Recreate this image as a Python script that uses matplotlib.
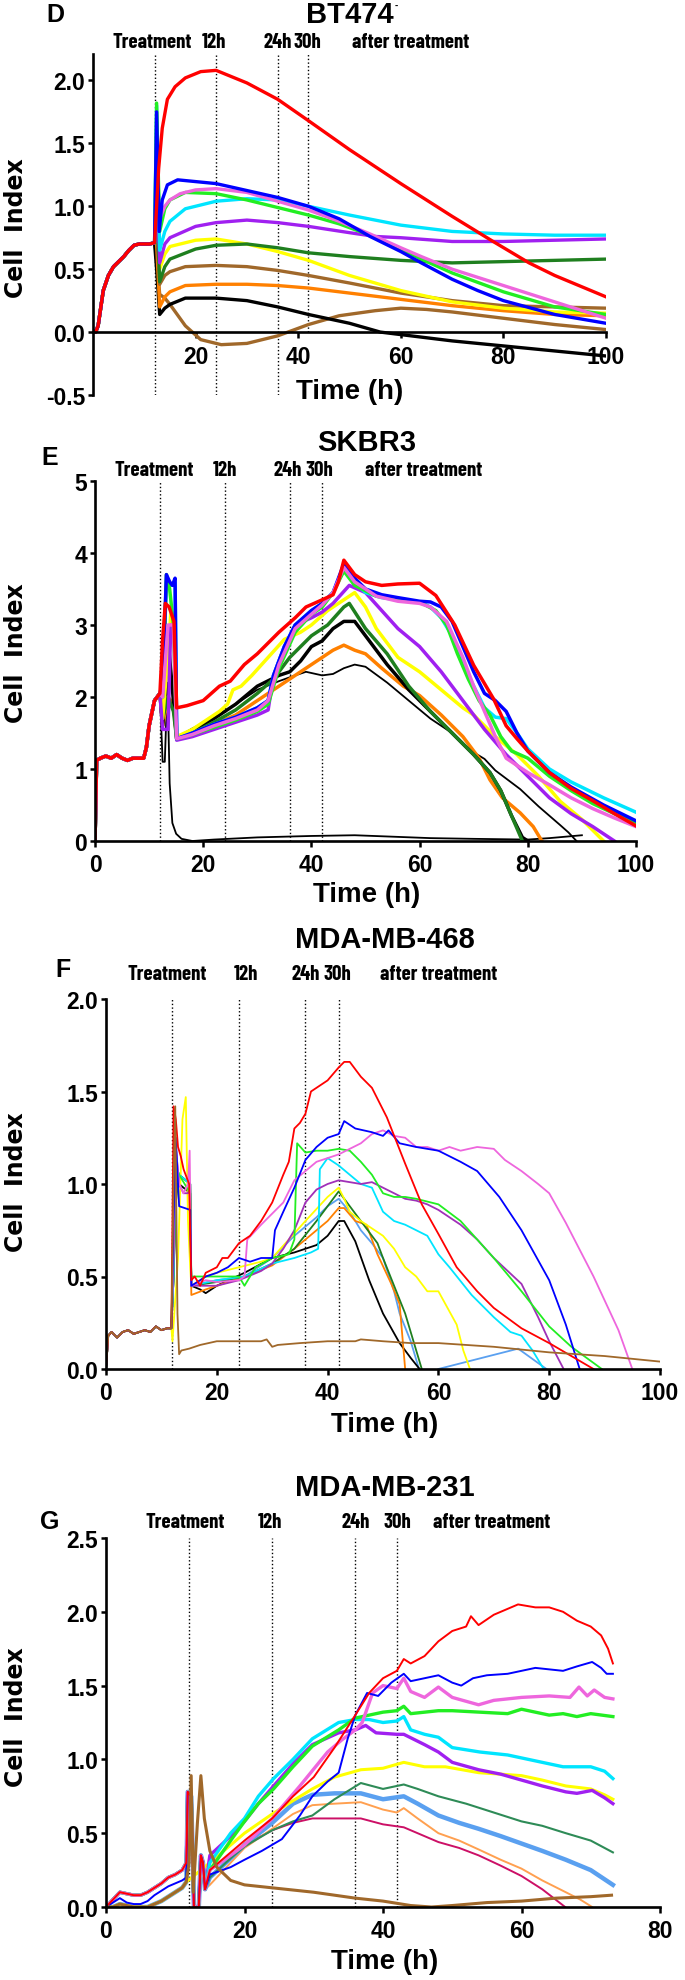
import matplotlib.pyplot as plt

plt.rcParams['font.family'] = ['Liberation Sans', 'DejaVu Sans']
plt.rcParams['font.weight'] = 'bold'

# ---------------- data: (time h, cell index) ----------------
# panel D  BT474
d_pre = [(0, 0.0), (0.5, 0.0), (1, 0.05), (2, 0.33), (3, 0.45), (4, 0.52), (5, 0.56), (6, 0.6),
         (7, 0.65), (8, 0.69), (9, 0.7), (10, 0.7), (11, 0.7), (12, 0.71)]
d_red = [(12.4, 1.0), (12.8, 1.3), (13.5, 1.62), (14.5, 1.85), (16, 1.95), (18, 2.02), (21, 2.07),
         (24, 2.08), (30, 1.98), (36, 1.85), (42, 1.68), (50, 1.45), (60, 1.18), (70, 0.92),
         (78, 0.72), (85, 0.55), (90, 0.45), (100, 0.28)]
d_blue = [(12.4, 1.75), (12.9, 0.8), (13.5, 1.05), (14.5, 1.17), (16.5, 1.21), (24, 1.18), (36, 1.07),
          (42, 1.0), (48, 0.9), (54, 0.76), (60, 0.64), (64, 0.55), (70, 0.42), (75, 0.33), (80, 0.25),
          (90, 0.14), (100, 0.07)]
d_pink = [(12.4, 1.2), (13, 0.9), (14, 1.0), (15, 1.05), (17, 1.1), (20, 1.13), (24, 1.14), (30, 1.11),
          (36, 1.04), (42, 0.97), (48, 0.88), (54, 0.78), (60, 0.67), (64, 0.6), (70, 0.5), (80, 0.37),
          (90, 0.24), (100, 0.11)]
d_lime = [(12.4, 1.82), (13, 0.8), (14, 0.98), (15, 1.05), (18, 1.11), (24, 1.1), (30, 1.05), (36, 0.99),
          (42, 0.93), (48, 0.86), (54, 0.77), (60, 0.66), (64, 0.58), (70, 0.47), (80, 0.32), (90, 0.2),
          (100, 0.14)]
d_cyan = [(12.4, 1.8), (13, 0.65), (14, 0.8), (15, 0.88), (18, 0.98), (24, 1.04), (30, 1.06), (36, 1.05),
          (42, 1.0), (50, 0.93), (60, 0.85), (70, 0.8), (80, 0.78), (90, 0.77), (100, 0.77)]
d_purple = [(12.4, 1.3), (13, 0.55), (14, 0.7), (15, 0.75), (20, 0.84), (24, 0.87), (30, 0.89), (36, 0.87),
            (42, 0.84), (50, 0.79), (55, 0.76), (60, 0.75), (70, 0.72), (80, 0.72), (90, 0.73), (100, 0.74)]
d_dkgreen = [(12.4, 1.0), (13, 0.4), (14, 0.52), (15, 0.58), (20, 0.66), (24, 0.69), (30, 0.7), (36, 0.67),
             (42, 0.63), (50, 0.6), (60, 0.57), (70, 0.55), (80, 0.56), (90, 0.57), (100, 0.58)]
d_yellow = [(12.4, 1.0), (13, 0.5), (14, 0.62), (15, 0.68), (20, 0.73), (24, 0.74), (30, 0.7), (36, 0.64),
            (42, 0.57), (50, 0.45), (60, 0.33), (70, 0.24), (80, 0.19), (90, 0.16), (100, 0.15)]
d_brown = [(12.4, 0.8), (13, 0.38), (14, 0.45), (15, 0.48), (18, 0.52), (24, 0.53), (30, 0.52), (36, 0.49),
           (42, 0.45), (50, 0.39), (60, 0.31), (70, 0.25), (80, 0.21), (90, 0.2), (100, 0.19)]
d_orange = [(12.4, 0.7), (13, 0.2), (14, 0.28), (15, 0.32), (18, 0.37), (24, 0.38), (30, 0.38), (36, 0.37),
            (42, 0.35), (50, 0.31), (60, 0.26), (70, 0.21), (80, 0.17), (90, 0.14), (100, 0.13)]
d_black = [(12.4, 0.5), (13, 0.14), (14, 0.19), (15, 0.22), (18, 0.27), (24, 0.27), (30, 0.25), (36, 0.2),
           (42, 0.14), (50, 0.07), (56, 0.0), (60, -0.02), (70, -0.07), (80, -0.11), (90, -0.15), (100, -0.19)]
d_brown2 = [(12.4, 0.6), (13, 0.3), (14, 0.27), (15, 0.22), (18, 0.05), (21, -0.06), (25, -0.1), (30, -0.09),
            (36, -0.03), (42, 0.06), (48, 0.13), (55, 0.17), (60, 0.19), (65, 0.18), (70, 0.16), (80, 0.11),
            (90, 0.06), (100, 0.02)]

# panel E  SKBR3
e_pre = [(0, 0.0), (0.3, 1.12), (1, 1.15), (2, 1.18), (3, 1.15), (4, 1.2), (5, 1.15), (6, 1.12), (7, 1.15),
         (8, 1.15), (9, 1.15), (9.5, 1.3), (10, 1.6), (11, 1.95), (12, 2.05)]
e_red = [(12.5, 2.8), (13, 3.3), (13.7, 3.25), (14.6, 3.05), (15.1, 1.85), (17, 1.88), (20, 1.95), (21.5, 2.05),
         (23, 2.15), (25, 2.22), (27.6, 2.45), (30, 2.6), (34, 2.9), (37, 3.1), (39, 3.25), (42, 3.35),
         (44, 3.42), (45, 3.6), (46, 3.9), (48, 3.7), (50, 3.6), (53, 3.55), (56, 3.57), (60, 3.58),
         (63, 3.41), (66.5, 3.0), (70, 2.44), (73.7, 1.97), (76, 1.6), (78, 1.42), (80, 1.25), (84, 0.95),
         (88, 0.73), (92, 0.56), (96, 0.38), (100, 0.21)]
e_blue = [(12.5, 2.2), (13.2, 3.7), (13.8, 3.6), (14.3, 3.55), (14.8, 3.65), (15.1, 1.42), (18, 1.5), (22, 1.62),
          (26, 1.72), (30, 1.85), (32, 1.95), (33, 2.3), (35, 2.7), (37, 3.0), (40, 3.2), (42, 3.3), (44, 3.45),
          (46, 3.85), (48, 3.65), (50, 3.5), (53, 3.42), (56, 3.38), (60, 3.33), (62, 3.32), (64, 3.25),
          (66, 3.05), (68, 2.7), (70, 2.35), (72, 2.05), (74, 1.95), (76, 1.8), (78, 1.5), (80, 1.25),
          (84, 0.95), (88, 0.75), (94, 0.5), (100, 0.28)]
e_cyan = [(12.5, 2.1), (13.2, 3.6), (14, 3.55), (14.8, 3.6), (15.1, 1.42), (18, 1.5), (22, 1.62), (26, 1.72),
          (30, 1.85), (32, 1.95), (33, 2.3), (35, 2.7), (37, 3.0), (40, 3.2), (42, 3.3), (44, 3.45), (46, 3.8),
          (48, 3.6), (50, 3.45), (53, 3.38), (56, 3.35), (60, 3.32), (62, 3.25), (64, 3.1), (66, 2.85),
          (68, 2.45), (70, 2.15), (72, 1.85), (74, 1.72), (76, 1.7), (78, 1.5), (80, 1.28), (84, 1.0),
          (88, 0.82), (94, 0.6), (100, 0.4)]
e_lime = [(12.5, 2.0), (13.2, 3.7), (13.8, 3.5), (14.5, 3.0), (15.1, 1.42), (18, 1.48), (22, 1.58), (26, 1.68),
          (30, 1.8), (32, 1.9), (34, 2.4), (37, 2.9), (40, 3.15), (42, 3.25), (44, 3.45), (46, 3.75),
          (48, 3.55), (52, 3.4), (56, 3.35), (60, 3.32), (63, 3.2), (65, 3.0), (67, 2.6), (69, 2.25),
          (71, 1.95), (73, 1.75), (75, 1.45), (77, 1.25), (80, 1.15), (84, 0.9), (88, 0.7), (92, 0.52),
          (96, 0.38), (100, 0.25)]
e_pink = [(12.5, 2.0), (13.5, 3.0), (14.5, 3.0), (15.1, 1.42), (18, 1.48), (22, 1.6), (26, 1.7), (30, 1.82),
          (32, 1.95), (34, 2.45), (37, 2.95), (40, 3.15), (42, 3.28), (44, 3.45), (46, 3.8), (48, 3.6),
          (52, 3.4), (56, 3.33), (60, 3.3), (62, 3.25), (65, 3.05), (68, 2.55), (70, 2.15), (72, 1.8),
          (74, 1.45), (76, 1.15), (78, 1.05), (80, 0.95), (84, 0.78), (88, 0.6), (92, 0.45), (96, 0.32),
          (100, 0.2)]
e_purple = [(12.5, 1.55), (13.5, 1.55), (14, 3.0), (14.8, 3.0), (15.1, 1.4), (18, 1.45), (22, 1.55),
            (26, 1.65), (30, 1.75), (32, 1.82), (33, 2.3), (35, 2.7), (37, 3.0), (40, 3.1), (42, 3.18),
            (44, 3.3), (47, 3.55), (50, 3.45), (53, 3.2), (56, 2.95), (60, 2.7), (64, 2.35), (68, 1.95),
            (72, 1.55), (76, 1.2), (80, 0.9), (84, 0.6), (88, 0.38), (92, 0.2), (95, 0.05), (96, 0.0)]
e_yellow = [(12.5, 1.7), (13.5, 2.6), (14, 3.15), (14.6, 3.0), (15.1, 1.45), (18, 1.55), (21, 1.7), (23, 1.8),
            (24.5, 1.9), (25.5, 2.1), (27, 2.15), (29, 2.3), (32, 2.55), (35, 2.8), (38, 2.9), (40, 3.0),
            (43, 3.2), (46, 3.35), (48, 3.45), (50, 3.25), (52, 2.95), (54, 2.75), (56, 2.55), (60, 2.35),
            (64, 2.1), (68, 1.85), (70, 1.75), (74, 1.45), (78, 1.2), (82, 0.9), (86, 0.55), (90, 0.3),
            (94, 0.0)]
e_dkgreen = [(12.5, 1.7), (13.5, 2.0), (14.5, 1.8), (15.1, 1.42), (18, 1.5), (22, 1.65), (26, 1.82),
             (30, 2.05), (33, 2.25), (36, 2.55), (40, 2.85), (43, 3.0), (46, 3.25), (47, 3.3), (50, 2.95),
             (54, 2.6), (58, 2.15), (62, 1.8), (66, 1.5), (70, 1.2), (73, 0.95), (75, 0.7), (77, 0.35),
             (79, 0.0)]
e_black = [(12.5, 1.6), (13.5, 2.8), (14.2, 2.2), (15.1, 1.42), (18, 1.55), (22, 1.7), (26, 1.9), (30, 2.15),
           (34, 2.3), (36, 2.35), (38, 2.5), (40, 2.7), (42, 2.78), (44, 2.95), (46, 3.05), (48, 3.05),
           (50, 2.85), (54, 2.45), (58, 2.1), (62, 1.8), (66, 1.5), (70, 1.2), (73, 0.95), (75, 0.7),
           (77, 0.35), (79, 0.05), (80, 0.0)]
e_orange = [(12.5, 1.6), (13.5, 2.0), (14.5, 1.9), (15.1, 1.42), (18, 1.5), (22, 1.62), (26, 1.75),
            (30, 1.95), (33, 2.1), (36, 2.25), (40, 2.45), (44, 2.65), (46, 2.72), (48, 2.65), (50, 2.6),
            (53, 2.4), (57, 2.15), (60, 2.02), (64, 1.75), (68, 1.45), (71, 1.15), (73, 0.85), (75.3, 0.6),
            (78.6, 0.39), (81, 0.2), (82.6, 0.0)]
e_black_thin = [(12.5, 1.1), (12.9, 1.1), (13.4, 2.2), (13.8, 0.8), (14.3, 0.25), (15, 0.1), (16, 0.03),
                (18, 0.0), (22, 0.02), (30, 0.05), (40, 0.07), (48, 0.08), (55, 0.06), (62, 0.04), (70, 0.03),
                (80, 0.02), (84, 0.04), (90, 0.08)]
e_black_thin2 = [(12.5, 1.6), (13.5, 2.0), (14.5, 1.8), (15.1, 1.4), (18, 1.52), (22, 1.7), (26, 1.9),
                 (30, 2.1), (34, 2.22), (37, 2.3), (39, 2.35), (42, 2.3), (44, 2.32), (46, 2.4), (48, 2.45),
                 (50, 2.42), (54, 2.2), (58, 1.95), (62, 1.7), (66, 1.5), (68, 1.35), (70, 1.23), (72, 1.14),
                 (74, 0.98), (78.6, 0.72), (82, 0.48), (86, 0.22), (87.5, 0.12), (89, 0.0)]

# panel F  MDA-MB-468
f_pre = [(0, 0.0), (0.4, 0.18), (1, 0.2), (2, 0.17), (3, 0.2), (4, 0.21), (5, 0.19), (6, 0.2), (7, 0.21),
         (8, 0.2), (9, 0.23), (10, 0.21), (11, 0.22), (11.8, 0.22)]
f_red = [(12.2, 1.42), (12.6, 1.35), (13, 1.2), (13.5, 1.15), (14, 1.08), (15, 1.0), (15.4, 0.48), (16, 0.5),
         (17, 0.45), (18, 0.52), (20, 0.55), (21, 0.6), (22, 0.6), (24, 0.68), (26, 0.72), (28, 0.8),
         (30, 0.9), (32, 1.05), (33, 1.12), (34, 1.3), (35, 1.33), (36, 1.38), (37, 1.5), (38, 1.52),
         (40, 1.56), (42, 1.63), (43, 1.66), (44, 1.66), (46, 1.58), (48, 1.52), (50.7, 1.36), (54, 1.11),
         (57, 0.89), (60, 0.73), (63.3, 0.55), (67, 0.42), (70, 0.33), (75, 0.22), (80, 0.14), (84, 0.07),
         (88, 0.0)]
f_blue = [(12.2, 0.8), (12.6, 1.25), (13.2, 0.88), (15.2, 0.86), (15.4, 0.45), (17, 0.48), (18, 0.5),
          (20, 0.52), (22, 0.55), (24, 0.6), (26, 0.58), (28, 0.6), (30, 0.6), (30.5, 0.75), (32, 0.85),
          (34, 0.98), (36, 1.13), (38, 1.2), (40, 1.25), (42, 1.27), (43, 1.34), (45, 1.3), (48, 1.28),
          (50, 1.26), (51, 1.29), (53, 1.22), (56, 1.2), (58, 1.19), (60, 1.18), (64, 1.12), (67, 1.07),
          (71, 0.93), (75, 0.75), (80, 0.48), (83, 0.24), (85.5, 0.0)]
f_pink = [(12.2, 0.7), (12.6, 1.2), (13.2, 1.0), (14, 0.95), (14.8, 1.0), (15.1, 1.18), (15.4, 0.45),
          (18, 0.48), (20, 0.47), (24, 0.48), (25, 0.5), (25.5, 0.7), (28, 0.78), (32, 0.9), (34, 1.02),
          (38, 1.12), (42, 1.16), (46, 1.22), (48, 1.27), (50, 1.29), (52, 1.26), (54, 1.25), (56, 1.2),
          (58, 1.2), (60, 1.18), (62, 1.2), (64, 1.18), (67, 1.2), (70, 1.19), (72, 1.13), (75, 1.07),
          (78, 1.0), (80, 0.95), (83, 0.79), (88, 0.5), (92.5, 0.21), (95, 0.0)]
f_lime = [(12.2, 0.8), (12.6, 1.1), (13.2, 1.05), (15.2, 0.95), (15.4, 0.5), (18, 0.5), (20, 0.5), (24, 0.5),
          (25, 0.45), (27, 0.55), (30, 0.6), (33, 0.62), (34, 0.7), (34.5, 1.22), (36, 1.17), (38, 1.18),
          (40, 1.18), (42, 1.19), (44, 1.18), (46, 1.12), (48, 1.05), (50, 0.95), (52, 0.93), (54, 0.93),
          (56, 0.92), (60, 0.89), (64, 0.8), (67, 0.7), (70, 0.6), (75, 0.42), (80, 0.23), (84, 0.12),
          (89.5, 0.0)]
f_purple = [(12.2, 0.6), (12.6, 1.2), (13.2, 1.0), (14, 0.95), (14.8, 0.95), (15.2, 1.0), (15.4, 0.45),
            (20, 0.45), (24, 0.48), (28, 0.53), (30, 0.57), (32, 0.65), (34, 0.75), (36, 0.9), (38, 0.97),
            (40, 1.0), (42, 1.02), (44, 1.01), (46, 1.0), (48, 1.01), (50, 0.98), (52, 0.95), (54, 0.92),
            (56, 0.91), (58, 0.89), (60, 0.86), (64, 0.78), (67, 0.7), (70, 0.6), (75, 0.46), (78, 0.28),
            (80, 0.15), (82.6, 0.0)]
f_cyan = [(12.2, 0.5), (12.6, 1.1), (13.2, 1.05), (15.2, 1.0), (15.4, 0.45), (20, 0.48), (25, 0.5),
          (30, 0.57), (34, 0.6), (37, 0.63), (38.3, 0.65), (38.6, 1.08), (40, 1.14), (42, 1.1), (44, 1.05),
          (46, 1.0), (48, 0.98), (50, 0.85), (52, 0.8), (54, 0.78), (58, 0.72), (60, 0.62), (62, 0.55),
          (66, 0.4), (70, 0.28), (73, 0.2), (75, 0.18), (77, 0.1), (79, 0.0)]
f_yellow = [(12, 0.15), (13, 0.6), (13.8, 1.35), (14.4, 1.47), (14.8, 0.8), (15.2, 0.55), (15.4, 0.45),
            (18, 0.5), (20, 0.52), (24, 0.55), (28, 0.58), (30, 0.6), (33, 0.7), (36, 0.8), (40, 0.93),
            (42, 0.98), (43, 0.92), (44, 0.85), (46, 0.8), (50, 0.72), (52, 0.65), (54, 0.55), (56, 0.5),
            (58, 0.42), (60, 0.42), (63.3, 0.24), (64.5, 0.1), (65.7, 0.0)]
f_dkgreen = [(12.2, 0.5), (12.6, 0.9), (13.2, 1.05), (15.2, 1.0), (15.4, 0.45), (20, 0.47), (25, 0.5),
             (30, 0.57), (34, 0.65), (38, 0.8), (40, 0.88), (42, 0.96), (44, 0.88), (46, 0.8), (48, 0.72),
             (49, 0.68), (50, 0.6), (52, 0.45), (54, 0.3), (56, 0.1), (57, 0.0)]
f_ltblue = [(12.2, 0.5), (12.6, 1.0), (13.2, 1.05), (15.2, 1.0), (15.4, 0.45), (20, 0.48), (25, 0.5),
            (30, 0.6), (34, 0.72), (38, 0.82), (40, 0.88), (42, 0.92), (44, 0.85), (46, 0.75), (48, 0.68),
            (50, 0.6), (52, 0.42), (53, 0.3), (55, 0.15), (56.5, 0.0), (58, float('nan')), (60, 0.0),
            (74.4, 0.11), (79.5, 0.0)]
f_orange = [(12.2, 0.5), (12.6, 1.1), (13.2, 1.05), (15.2, 1.0), (15.4, 0.4), (18, 0.43), (20, 0.45),
            (25, 0.5), (30, 0.56), (34, 0.65), (38, 0.75), (40, 0.8), (42, 0.87), (43, 0.87), (45, 0.8),
            (47, 0.78), (49, 0.62), (51.5, 0.46), (53, 0.35), (54, 0.0)]
f_black = [(12.2, 0.5), (12.6, 1.0), (13.2, 1.0), (15.2, 0.95), (15.4, 0.45), (17, 0.43), (18, 0.41),
           (20, 0.45), (25, 0.52), (30, 0.6), (34, 0.63), (38, 0.67), (40, 0.72), (42, 0.8), (43, 0.8),
           (45, 0.69), (47.5, 0.48), (50, 0.3), (53, 0.14), (55, 0.06), (56.6, 0.0)]
f_brown = [(12.2, 1.0), (12.5, 1.42), (12.9, 0.3), (13.2, 0.08), (13.6, 0.1), (15, 0.11), (17, 0.13),
           (20, 0.15), (25, 0.15), (28, 0.15), (29, 0.16), (30, 0.12), (31, 0.13), (35, 0.14), (40, 0.15),
           (45, 0.15), (46, 0.16), (50, 0.15), (55, 0.14), (60, 0.14), (70, 0.12), (80, 0.09), (90, 0.07),
           (100, 0.04)]

# panel G  MDA-MB-231
g_pre_hi = [(0, 0.0), (1, 0.05), (2, 0.1), (3, 0.09), (4, 0.08), (5, 0.08), (6, 0.1), (7, 0.13), (8, 0.16),
            (9, 0.2), (10, 0.22), (11, 0.25), (11.6, 0.3)]
g_pre_lo = [(0, 0.0), (1, 0.0), (2, 0.02), (3, 0.01), (4, 0.0), (5, 0.0), (6, 0.0), (7, 0.02), (8, 0.04),
            (9, 0.07), (10, 0.1), (11, 0.13), (11.6, 0.17)]
g_pre_blue = [(0, 0.0), (1, 0.03), (2, 0.06), (3, 0.03), (4, 0.02), (5, 0.02), (6, 0.04), (7, 0.08),
              (8, 0.11), (9, 0.14), (10, 0.16), (11, 0.18), (11.6, 0.2)]
g_spike = [(11.8, 0.78), (12.3, 0.75), (12.7, 0.0), (13.4, 0.0), (13.7, 0.35), (14.0, 0.3), (14.3, 0.12)]
g_red = [(15, 0.25), (18, 0.37), (20, 0.45), (24, 0.6), (27, 0.75), (30, 0.88), (33, 1.08), (36, 1.3),
         (38, 1.45), (40, 1.55), (42, 1.6), (43, 1.68), (44, 1.65), (46, 1.7), (48, 1.8), (50, 1.87),
         (52, 1.9), (52.7, 1.97), (53.8, 1.91), (56, 1.98), (59.5, 2.05), (62, 2.03), (64, 2.03), (66, 2.0),
         (68, 1.94), (70, 1.9), (71.5, 1.84), (72.5, 1.75), (73.2, 1.65)]
g_blue = [(15, 0.22), (18, 0.27), (20, 0.32), (22.5, 0.38), (25.4, 0.46), (28, 0.62), (29.8, 0.75), (32, 0.85),
          (33.6, 0.91), (34.9, 1.14), (36, 1.3), (37.7, 1.45), (39.3, 1.43), (41.2, 1.52), (43, 1.58),
          (44, 1.53), (46, 1.55), (48, 1.57), (50, 1.52), (51.3, 1.5), (53, 1.55), (55, 1.57), (58, 1.58),
          (60, 1.6), (62, 1.62), (64, 1.61), (66, 1.6), (68, 1.63), (70.2, 1.66), (71.5, 1.62), (72.3, 1.58),
          (73.2, 1.58)]
g_pink = [(15, 0.25), (18, 0.35), (20, 0.42), (24, 0.6), (28, 0.82), (32, 1.05), (34, 1.13), (36, 1.2),
          (37, 1.25), (38.5, 1.45), (40, 1.5), (42, 1.48), (43, 1.55), (44, 1.46), (46, 1.42), (48, 1.49),
          (50, 1.42), (53.8, 1.37), (56, 1.4), (60, 1.42), (64, 1.43), (67, 1.42), (68.3, 1.49), (69.5, 1.43),
          (70.5, 1.47), (72, 1.42), (73.2, 1.41)]
g_lime = [(15, 0.25), (18, 0.45), (20, 0.58), (22, 0.7), (24.2, 0.8), (27, 0.95), (29.8, 1.09), (33.6, 1.2),
          (36, 1.28), (38, 1.3), (40, 1.32), (42, 1.33), (43, 1.36), (44, 1.31), (46, 1.32), (48, 1.33),
          (50, 1.33), (54, 1.32), (58, 1.31), (60, 1.34), (64, 1.3), (66, 1.31), (68, 1.29), (70, 1.31),
          (73.2, 1.29)]
g_cyan = [(15, 0.3), (18, 0.5), (20, 0.6), (22, 0.75), (24.2, 0.87), (27, 1.0), (29.8, 1.14), (33.6, 1.25),
          (36, 1.27), (38, 1.27), (40, 1.25), (42, 1.26), (43, 1.29), (44, 1.2), (46, 1.17), (48, 1.15),
          (50, 1.08), (54, 1.05), (58, 1.03), (62, 0.99), (66, 0.95), (70, 0.95), (72, 0.92), (73.2, 0.87)]
g_purple = [(15, 0.35), (18, 0.48), (20, 0.58), (22, 0.7), (24.2, 0.82), (27, 0.97), (29.8, 1.1), (33.6, 1.18),
            (36, 1.2), (37.5, 1.23), (39, 1.18), (42, 1.17), (43, 1.17), (46, 1.1), (48, 1.05), (50, 0.98),
            (53.8, 0.93), (57, 0.9), (60, 0.86), (63, 0.82), (66.4, 0.78), (68, 0.77), (70.2, 0.79),
            (72, 0.74), (73.2, 0.7)]
g_yellow = [(15, 0.3), (18, 0.42), (20, 0.5), (24, 0.63), (27, 0.72), (29.8, 0.8), (33, 0.88), (36.8, 0.93),
            (40, 0.94), (43, 0.98), (46, 0.95), (49, 0.95), (53.8, 0.91), (57, 0.9), (60, 0.89), (63, 0.86),
            (66.4, 0.82), (70, 0.8), (72, 0.76), (73.2, 0.73)]
g_seagreen = [(15, 0.2), (18, 0.33), (20, 0.41), (24, 0.52), (27, 0.58), (29.8, 0.62), (33, 0.73),
              (36.8, 0.84), (40, 0.8), (43, 0.83), (45, 0.8), (48, 0.75), (52, 0.7), (56, 0.64), (60, 0.58),
              (63, 0.55), (66.4, 0.5), (70, 0.45), (73.2, 0.37)]
g_ltblue = [(15, 0.2), (18, 0.33), (20, 0.42), (24, 0.57), (27, 0.7), (29.8, 0.76), (33, 0.77), (36.8, 0.77),
            (40, 0.73), (43, 0.75), (45, 0.7), (48, 0.62), (51, 0.57), (53.8, 0.53), (57, 0.48), (60, 0.43),
            (63, 0.38), (66.4, 0.32), (70, 0.25), (73.2, 0.15)]
g_orange = [(15, 0.15), (18, 0.3), (20, 0.4), (24, 0.53), (27, 0.63), (29.8, 0.69), (33, 0.7), (36.8, 0.71),
            (40, 0.66), (42, 0.64), (43, 0.67), (45, 0.6), (48, 0.5), (51, 0.45), (53.8, 0.39), (57, 0.32),
            (60, 0.26), (63, 0.18), (66.4, 0.1), (68.5, 0.05), (70.2, 0.0)]
g_crimson = [(15, 0.25), (18, 0.35), (20, 0.42), (24, 0.52), (27, 0.57), (29.8, 0.6), (33, 0.6), (36.8, 0.6),
             (40, 0.56), (43, 0.54), (46, 0.48), (48, 0.44), (51, 0.4), (53.8, 0.35), (57, 0.28), (60, 0.21),
             (63, 0.12), (66.3, 0.0)]
g_brown = [(12.0, 0.3), (12.3, 0.89), (12.6, 0.1), (13.2, 0.57), (13.7, 0.89), (14.2, 0.6), (15, 0.38),
           (16, 0.27), (18, 0.18), (20, 0.15), (24, 0.13), (30, 0.1), (36, 0.06), (40, 0.04), (44, 0.01),
           (47, 0.0), (50, 0.01), (55, 0.03), (60, 0.04), (65, 0.06), (70, 0.07), (73, 0.08)]

treat_lines = [12, 24, 36, 42]

C = dict(red='#ff0000', blue='#0000ff', lime='#22ee22', cyan='#00e5ff', pink='#ee66dd', purple='#a020f0',
         dkgreen='#1f7f1f', yellow='#ffff00', brown='#a0682a', orange='#ff8000', black='#000000',
         purple2='#a030b8', ltblue='#5aa0f0', seagreen='#2e8b57', ltorange='#ffa050', crimson='#cc1066')

W, H = 685, 1981
fig = plt.figure(figsize=(W / 100, H / 100), dpi=100)
NARROW = ['Barlow Condensed', 'Liberation Sans']


def make_ax(left, right, top, bottom, xlim, ylim, xticks, yticks, fmt):
    ax = fig.add_axes([left / W, 1 - bottom / H, (right - left) / W, (bottom - top) / H])
    ax.set_xlim(*xlim)
    ax.set_ylim(*ylim)
    for s in ['top', 'right']:
        ax.spines[s].set_visible(False)
    for s in ['left', 'bottom']:
        ax.spines[s].set_linewidth(1.9)
    ax.set_xticks(xticks)
    ax.set_yticks(yticks)
    ax.set_yticklabels([fmt % v for v in yticks])
    ax.tick_params(width=1.8, labelsize=16.5)
    ax.tick_params(axis='x', length=4, pad=5)
    ax.tick_params(axis='y', length=3.5, pad=2)
    for lab in ax.get_xticklabels() + ax.get_yticklabels():
        lab.set_fontweight('bold')
    return ax


def draw(ax, series):
    for pts, col, lw in series:
        ax.plot([p[0] for p in pts], [p[1] for p in pts], color=col, lw=lw, solid_joinstyle='round')


def txt(x, y, s, size, ha='center', family=None):
    kw = {}
    if family:
        kw['family'] = family
    fig.text(x / W, 1 - y / H, s, fontsize=size, ha=ha, va='center', fontweight='bold', **kw)


def headers(title, tx, ty, letter, lx, ly, row_y, pieces, ylab_y, time_y):
    txt(tx, ty, title, 21)
    txt(lx, ly, letter, 18)
    for x, s in pieces:
        txt(x, row_y, s, 15, ha='left', family=NARROW)
    fig.text(16 / W, 1 - ylab_y / H, 'Cell  Index', rotation=90, fontsize=17, ha='center', va='center',
             fontweight='bold', family=['DejaVu Sans'])
    txt(tx, time_y, 'Time (h)', 20)


# ---- D
ax = make_ax(93, 606, 55, 396, (0, 100), (-0.5, 2.21), [20, 40, 60, 80, 100],
             [-0.5, 0.0, 0.5, 1.0, 1.5, 2.0], '%.1f')
ax.spines['bottom'].set_position(('data', 0))
ax.vlines(treat_lines[:3], -0.5, 2.21, colors='k', linestyles=':', lw=1.0)
ax.vlines(treat_lines[3:], 0, 2.21, colors='k', linestyles=':', lw=1.0)
lw = 2.4
draw(ax, [(d_pre + d_brown2, C['brown'], lw), (d_pre + d_black, C['black'], lw),
          (d_pre + d_orange, C['orange'], lw), (d_pre + d_brown, C['brown'], lw),
          (d_pre + d_yellow, C['yellow'], lw), (d_pre + d_dkgreen, C['dkgreen'], lw),
          (d_pre + d_purple, C['purple'], lw), (d_pre + d_cyan, C['cyan'], lw),
          (d_pre + d_lime, C['lime'], lw), (d_pre + d_pink, C['pink'], lw),
          (d_pre + d_blue, C['blue'], lw), (d_pre + d_red, C['red'], lw)])
headers('BT474', 350, 15, 'D', 55, 15, 42,
        [(113, 'Treatment'), (202, '12h'), (263, '24h'), (293, '30h'), (352, 'after treatment')],
        228, 392)
txt(396, 6, '-', 7)

# ---- E
ax = make_ax(95, 636, 482, 842, (0, 100), (0, 5), [0, 20, 40, 60, 80, 100], [0, 1, 2, 3, 4, 5], '%d')
ax.vlines(treat_lines, 0, 5, colors='k', linestyles=':', lw=1.0)
lw = 2.5
draw(ax, [(e_pre + e_black_thin, C['black'], 1.3), (e_pre + e_black_thin2, C['black'], 1.3),
          (e_pre + e_orange, C['orange'], lw), (e_pre + e_black, C['black'], lw),
          (e_pre + e_dkgreen, C['dkgreen'], lw), (e_pre + e_yellow, C['yellow'], lw),
          (e_pre + e_purple, C['purple'], lw), (e_pre + e_cyan, C['cyan'], lw),
          (e_pre + e_lime, C['lime'], lw), (e_pre + e_blue, C['blue'], lw),
          (e_pre + e_pink, C['pink'], lw), (e_pre + e_red, C['red'], lw)])
headers('SKBR3', 367, 443, 'E', 50, 458, 470,
        [(115, 'Treatment'), (213, '12h'), (273, '24h'), (306, '30h'), (365, 'after treatment')],
        653, 895)

# ---- F
ax = make_ax(106, 660, 1000, 1370, (0, 100), (0, 2), [0, 20, 40, 60, 80, 100],
             [0.0, 0.5, 1.0, 1.5, 2.0], '%.1f')
ax.vlines(treat_lines, 0, 2, colors='k', linestyles=':', lw=1.0)
lw = 1.3
draw(ax, [(f_pre + f_ltblue, C['ltblue'], lw), (f_pre + f_black, C['black'], lw),
          (f_pre + f_orange, C['orange'], lw), (f_pre + f_dkgreen, C['dkgreen'], lw),
          (f_pre + f_yellow, C['yellow'], lw), (f_pre + f_cyan, C['cyan'], lw),
          (f_pre + f_purple, C['purple2'], lw), (f_pre + f_lime, C['lime'], lw),
          (f_pre + f_pink, C['pink'], lw), (f_pre + f_blue, C['blue'], lw),
          (f_pre + f_red, C['red'], lw), (f_pre + f_brown, C['brown'], lw)])
headers('MDA-MB-468', 385, 940, 'F', 63, 970, 975,
        [(128, 'Treatment'), (234, '12h'), (291, '24h'), (324, '30h'), (380, 'after treatment')],
        1182, 1425)

# ---- G
ax = make_ax(106, 660, 1539, 1908, (0, 80), (0, 2.5), [0, 20, 40, 60, 80],
             [0.0, 0.5, 1.0, 1.5, 2.0, 2.5], '%.1f')
ax.vlines(treat_lines, 0, 2.5, colors='k', linestyles=':', lw=1.0)
draw(ax, [(g_pre_lo + g_spike + g_crimson, C['crimson'], 1.4),
          (g_pre_lo + g_spike + g_orange, C['ltorange'], 1.4),
          (g_pre_lo + g_spike + g_ltblue, C['ltblue'], 3.2),
          (g_pre_lo + g_spike + g_seagreen, C['seagreen'], 1.5),
          (g_pre_lo + g_yellow, C['yellow'], 2.2),
          (g_pre_hi + g_spike + g_purple, C['purple'], 2.4),
          (g_pre_hi + g_spike + g_cyan, C['cyan'], 2.4),
          (g_pre_hi + g_spike + g_lime, C['lime'], 2.4),
          (g_pre_hi + g_spike + g_pink, C['pink'], 2.4),
          (g_pre_blue + g_spike + g_blue, C['blue'], 1.4),
          (g_pre_hi + g_spike + g_red, C['red'], 1.4),
          (g_pre_lo + g_brown, C['brown'], 2.2)])
headers('MDA-MB-231', 385, 1488, 'G', 50, 1522, 1522,
        [(146, 'Treatment'), (258, '12h'), (341, '24h'), (383, '30h'), (433, 'after treatment')],
        1717, 1962)

fig.savefig('out.png', dpi=100)
